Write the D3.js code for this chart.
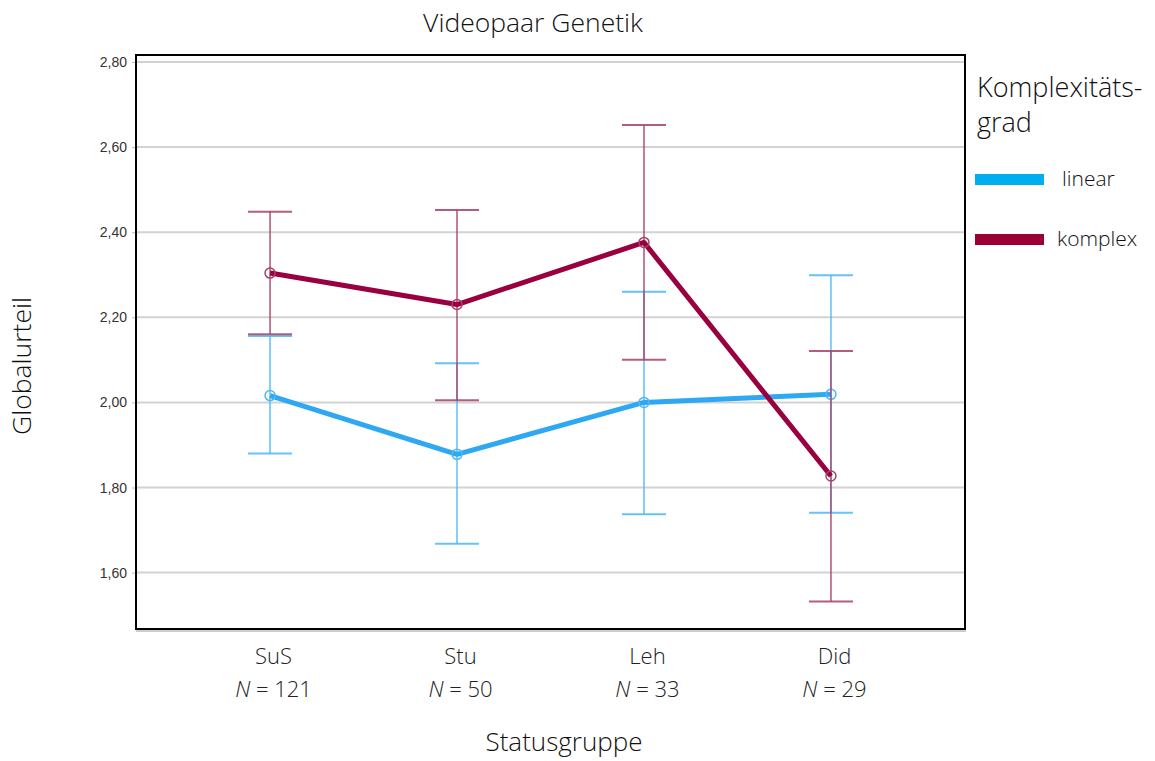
<!DOCTYPE html>
<html><head><meta charset="utf-8">
<script src="https://cdn.jsdelivr.net/npm/d3@7"></script>
<style>body{margin:0;background:#fff}svg{display:block}</style>
</head><body>
<svg id="c" width="1155" height="761"></svg>
<script>
const categories = ["SuS","Stu","Leh","Did"];
const counts = [121, 50, 33, 29];
const linearMean = [2.016, 1.878, 2.000, 2.019];
const linearLow  = [1.880, 1.668, 1.737, 1.741];
const linearHigh = [2.156, 2.092, 2.260, 2.299];
const komplexMean = [2.304, 2.230, 2.376, 1.827];
const komplexLow  = [2.160, 2.005, 2.100, 1.532];
const komplexHigh = [2.448, 2.452, 2.652, 2.121];
const yTicks = [1.6, 1.8, 2.0, 2.2, 2.4, 2.6, 2.8];

const series = [
  {name:"linear", mean:linearMean, low:linearLow, high:linearHigh, line:"#2ea8f2", bar:"#4cb9f7", legend:"#00aeef"},
  {name:"komplex", mean:komplexMean, low:komplexLow, high:komplexHigh, line:"#990040", bar:"#a8406a", legend:"#990033"}
];

const svg = d3.select("#c");
const L=136, R=965, T=55, B=629;
const x = d3.scalePoint().domain(categories).range([L,R]).padding(0.717);
const y = d3.scaleLinear().domain([1.4675, 2.8165]).range([B,T]);

// gridlines
svg.append("g").selectAll("line").data(yTicks).join("line")
  .attr("x1",L).attr("x2",R).attr("y1",d=>y(d)).attr("y2",d=>y(d))
  .attr("stroke","#d2d2d2").attr("stroke-width",2);

// y axis
const yAxis = d3.axisLeft(y).tickValues(yTicks).tickSize(4).tickPadding(5)
  .tickFormat(d=>d3.format(".2f")(d).replace(".",","));
const gy = svg.append("g").attr("transform",`translate(${L},0)`).call(yAxis);
gy.select(".domain").remove();
gy.selectAll(".tick line").attr("stroke","#bbb");
gy.selectAll(".tick text").attr("font-family","Liberation Sans, Arial, sans-serif")
  .attr("font-size",14).attr("fill","#333");

const font = "Open Sans, sans-serif";
// x axis labels
const xAxis = d3.axisBottom(x).tickSize(0).tickPadding(0).tickFormat(()=>"");
const gx = svg.append("g").attr("transform",`translate(0,${B})`).call(xAxis);
gx.select(".domain").remove();
gx.selectAll(".tick").each(function(d,i){
  const g=d3.select(this);
  g.append("text").attr("x",3).attr("y",35).attr("text-anchor","middle")
    .attr("font-family",font).attr("font-weight",300).attr("font-size",22).attr("fill","#222")
    .text(d);
  const t=g.append("text").attr("x",3).attr("y",68).attr("text-anchor","middle")
    .attr("font-family",font).attr("font-weight",300).attr("font-size",22).attr("fill","#222");
  t.append("tspan").attr("font-style","italic").text("N");
  t.append("tspan").text(" = "+counts[i]);
});

// error bars, lines, markers
series.forEach(s=>{
  const g = svg.append("g");
  const capW = 22;
  categories.forEach((c,i)=>{
    const cx = x(c);
    g.append("line").attr("x1",cx).attr("x2",cx).attr("y1",y(s.low[i])).attr("y2",y(s.high[i]))
      .attr("stroke",s.bar).attr("stroke-width",1.6).attr("opacity",0.85);
    [s.low[i], s.high[i]].forEach(v=>{
      g.append("line").attr("x1",cx-capW).attr("x2",cx+capW).attr("y1",y(v)).attr("y2",y(v))
        .attr("stroke",s.bar).attr("stroke-width",2).attr("opacity",0.85);
    });
  });
  const line = d3.line().x((d,i)=>x(categories[i])).y(d=>y(d));
  g.append("path").datum(s.mean).attr("d",line).attr("fill","none")
    .attr("stroke",s.line).attr("stroke-width",5).attr("stroke-linejoin","round");
  g.selectAll("circle").data(s.mean).join("circle")
    .attr("cx",(d,i)=>x(categories[i])).attr("cy",d=>y(d)).attr("r",5)
    .attr("fill","none").attr("stroke",s.bar).attr("stroke-width",1.5);
});

// frame
svg.append("line").attr("x1",L).attr("x2",R+1).attr("y1",B+2).attr("y2",B+2).attr("stroke","#999").attr("stroke-width",1);
svg.append("rect").attr("x",L).attr("y",T).attr("width",R-L).attr("height",B-T)
  .attr("fill","none").attr("stroke","#000").attr("stroke-width",2);

// titles
svg.append("text").attr("x",533).attr("y",32).attr("text-anchor","middle")
  .attr("font-family",font).attr("font-weight",300).attr("font-size",26.5).attr("fill","#111").text("Videopaar Genetik");
svg.append("text").attr("x",564).attr("y",751).attr("text-anchor","middle")
  .attr("font-family",font).attr("font-weight",300).attr("font-size",26).attr("fill","#111").text("Statusgruppe");
svg.append("text").attr("transform","translate(31,366) rotate(-90)").attr("text-anchor","middle")
  .attr("font-family",font).attr("font-weight",300).attr("font-size",26.5).attr("fill","#111").text("Globalurteil");

// legend
const lg = svg.append("g");
lg.append("text").attr("x",977).attr("y",97).attr("font-family",font).attr("font-weight",300)
  .attr("font-size",27).attr("fill","#111").text("Komplexitäts-");
lg.append("text").attr("x",977).attr("y",132).attr("font-family",font).attr("font-weight",300)
  .attr("font-size",27).attr("fill","#111").text("grad");
const legY = [179, 239];
const legTX = [1062, 1057];
series.forEach((s,i)=>{
  lg.append("rect").attr("x",975).attr("y",legY[i]-5).attr("width",69).attr("height",11).attr("fill",s.legend);
  lg.append("text").attr("x",legTX[i]).attr("y",legY[i]+7).attr("font-family",font).attr("font-weight",300)
    .attr("font-size",21).attr("fill","#111").text(s.name);
});
</script>
</body></html>
